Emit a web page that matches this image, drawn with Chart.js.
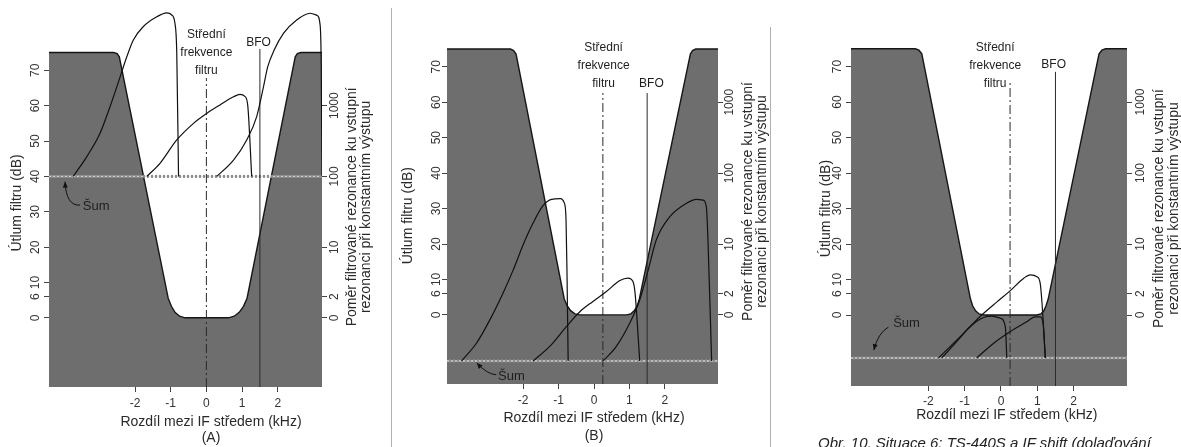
<!DOCTYPE html>
<html><head><meta charset="utf-8">
<script src="https://cdn.jsdelivr.net/npm/chart.js@4.4.1/dist/chart.umd.min.js"></script>
<style>
html,body{margin:0;padding:0;background:#fff;width:1181px;height:447px;overflow:hidden;}
canvas{position:absolute;top:0;}
.sep{position:absolute;width:1px;background:#b0b0b0;z-index:5;}
.cap{position:absolute;left:818px;top:435px;font:italic 15px "Liberation Sans",Arial,sans-serif;line-height:15px;color:#222;white-space:nowrap;z-index:5;}
</style></head><body>
<canvas id="cA" width="390" height="447" style="left:0px"></canvas>
<canvas id="cB" width="378" height="447" style="left:395px"></canvas>
<canvas id="cC" width="408" height="447" style="left:773px"></canvas>
<div class="sep" style="left:391px;top:8px;height:439px"></div>
<div class="sep" style="left:770px;top:27px;height:420px"></div>
<div class="cap" id="cap"></div>
<script>
// ---------- shared ticks / texts ----------
const xTicks = [-2, -1, 0, 1, 2];
const dbTicks = [0, 6, 10, 20, 30, 40, 50, 60, 70];
const ratioTickDb = [0, 6, 20, 40, 60];
const ratioLabels = ['0', '2', '10', '100', '1000'];
const midLabel = ['Střední', 'frekvence', 'filtru'];
const bfoLabel = 'BFO';
const noiseLabel = 'Šum';
const yTitle = 'Útlum filtru (dB)';
const y2Title = ['Poměr filtrované rezonance ku vstupní', 'rezonanci při konstantním výstupu'];
const xTitle = 'Rozdíl mezi IF středem (kHz)';
const caption = 'Obr. 10. Situace 6: TS-440S a IF shift (dolaďování';

// ---------- panel A data: [kHz, dB] ----------
const filterA = [[-4.41,75],[-2.6,75],[-2.5,74.7],[-2.44,73.8],[-1.07,5.6],[-0.98,3.3],[-0.88,1.6],[-0.75,0.5],[-0.6,0.05],[0.62,0.05],[0.78,0.5],[0.92,1.6],[1.04,3.3],[1.14,5.6],[2.49,73.8],[2.55,74.7],[2.65,75],[3.24,75]];
const signalA1 = [[-3.73,40],[-3.35,45.6],[-2.98,52.2],[-2.7,59.7],[-2.51,65.3],[-2.37,69.6],[-2.23,73.8],[-2.05,78.5],[-1.77,82.3],[-1.39,85.1],[-1.11,86.2],[-0.97,85.6],[-0.88,83.2],[-0.83,75],[-0.78,40]];
const signalA2 = [[-1.67,40],[-1.3,43.7],[-0.83,50.3],[-0.36,55],[0.01,57.8],[0.38,60.2],[0.76,62.5],[0.94,63.2],[1.08,62.6],[1.16,60],[1.27,40]];
const signalA3 = [[0.29,40],[0.76,44.6],[1.13,50.3],[1.41,56.9],[1.6,65.3],[1.72,71],[1.9,75.7],[2.16,80.4],[2.53,84.2],[2.91,86.1],[3.1,85.5],[3.19,82.5],[3.22,70],[3.24,40]];
const noiseA = 40, centerA = 0, bfoA = 1.5;

// ---------- panel B data ----------
const filterB = [[-4.15,75],[-2.36,75],[-2.27,74.6],[-2.2,73.6],[-0.84,4.5],[-0.76,2.6],[-0.66,1.2],[-0.54,0.3],[-0.4,0],[0.92,0],[1.04,0.3],[1.14,1.2],[1.22,2.6],[1.28,4.5],[2.72,73.6],[2.78,74.6],[2.87,75],[3.5,75]];
const signalB1 = [[-3.74,-13],[-3.32,-8],[-2.94,-1.4],[-2.57,6.1],[-2.28,12.7],[-2.0,19.8],[-1.72,25.9],[-1.44,30.8],[-1.2,32.6],[-0.95,32.8],[-0.84,31.6],[-0.79,27],[-0.76,10],[-0.73,-13]];
const signalB2 = [[-1.72,-13],[-1.25,-8.9],[-0.78,-3.3],[-0.4,0.9],[-0.03,3.8],[0.35,6.6],[0.73,9.7],[0.96,10.4],[1.1,9.4],[1.16,6],[1.29,-13]];
const signalB3 = [[0.26,-13],[0.63,-8.9],[1.01,-2.3],[1.29,4.2],[1.53,12.7],[1.76,21.2],[2.14,27.7],[2.61,31.5],[2.89,32.6],[3.08,32.4],[3.17,30.6],[3.22,20.2],[3.32,-13]];
const noiseB = -13, centerB = 0.25, bfoB = 1.5;

// ---------- panel C data ----------
const filterC = [[-4.13,75],[-2.36,75],[-2.26,74.6],[-2.18,73.6],[-0.84,4.5],[-0.78,2.6],[-0.7,1.2],[-0.6,0.3],[-0.48,0],[0.98,0],[1.1,0.3],[1.18,1.2],[1.24,2.6],[1.3,4.5],[2.7,73.6],[2.78,74.6],[2.88,75],[3.47,75]];
const signalC1 = [[-1.72,-12.1],[-1.31,-8],[-0.94,-4.2],[-0.53,0],[-0.11,3.7],[0.25,6.8],[0.62,10.3],[0.81,11.3],[0.99,10.8],[1.08,8.9],[1.13,3.3],[1.22,-12.1]];
const signalC2 = [[-1.63,-12.1],[-1.22,-7.5],[-0.85,-3.3],[-0.48,-0.7],[-0.25,-0.3],[-0.02,-0.9],[0.12,-3.3],[0.16,-12.1]];
const signalC3 = [[-0.67,-12.1],[-0.21,-8],[0.25,-4.7],[0.71,-1.9],[0.94,-0.5],[1.08,-0.5],[1.16,-2.3],[1.22,-12.1]];
const noiseC = -12.1, centerC = 0.25, bfoC = 1.5;

// ---------- layout / style (not data) ----------
const FONT = '"Liberation Sans", Arial, Helvetica, sans-serif';
const GRAY = '#6e6e6e';
Chart.defaults.font.family = FONT;

const panels = [
  { canvas:'cA', filter:filterA, signals:[signalA1,signalA2,signalA3], noise:noiseA, center:centerA, bfo:bfoA,
    xMin:-4.41, xMax:3.24, yMin:-19.5, yMax:89.0, padTop:3, yW:49, y2W:68, xH:60, yPad:2, y2Pad:-6, xPad:4,
    centerTop:67.8, bfoTop:76, midAt:[0,74.9], bfoAt:[1.46,77.8], sumAt:[-3.09,31.4],
    sumArrow:[[-3.54,31.9],[-3.93,31.6],[-3.96,38.5]],
    yTitleDx:-32, yTitleDb:32.5, y2TitleDx:[30,44], y2TitleDb:31.4, xTitleAt:0.13, xTitleDy:[35,51], tag:'(A)' },
  { canvas:'cB', filter:filterB, signals:[signalB1,signalB2,signalB3], noise:noiseB, center:centerB, bfo:bfoB,
    xMin:-4.15, xMax:3.5, yMin:-19.5, yMax:88.0, padTop:3, yW:52, y2W:55, xH:63, yPad:-1, y2Pad:-7, xPad:4,
    centerTop:62.6, bfoTop:62.6, midAt:[0.27,70.3], bfoAt:[1.62,65.1], sumAt:[-2.33,-17.4],
    sumArrow:[[-2.76,-16.9],[-3.03,-16.7],[-3.31,-13.5]],
    yTitleDx:-39, yTitleDb:28, y2TitleDx:[30,44], y2TitleDb:32, xTitleAt:0, xTitleDy:[34,52], tag:'(B)' },
  { canvas:'cC', filter:filterC, signals:[signalC1,signalC2,signalC3], noise:noiseC, center:centerC, bfo:bfoC,
    xMin:-4.13, xMax:3.47, yMin:-20, yMax:87.9, padTop:3, yW:78, y2W:54, xH:61, yPad:2, y2Pad:-5, xPad:3,
    centerTop:66, bfoTop:68.5, midAt:[-0.16,70.1], bfoAt:[1.45,70.4], sumAt:[-2.6,-2.3],
    sumArrow:[[-3.1,-3.4],[-3.39,-5.1],[-3.5,-9.9]],
    yTitleDx:-25, yTitleDb:30, y2TitleDx:[32,47], y2TitleDb:30, xTitleAt:0.16, xTitleDy:[29], tag:null }
];

const pts = arr => arr.map(p => ({x:p[0], y:p[1]}));

function drawText(ctx, s, x, y, font, rot) {
  ctx.save();
  ctx.translate(x, y);
  if (rot) ctx.rotate(rot);
  ctx.font = font;
  ctx.textAlign = 'center';
  ctx.textBaseline = 'middle';
  ctx.fillText(s, 0, 0);
  ctx.restore();
}

function textPlugin(L) {
  return {
    id: 'panelText',
    afterDraw(chart) {
      const {ctx, chartArea: ca} = chart;
      const xs = chart.scales.x, ys = chart.scales.y;
      const px = v => xs.getPixelForValue(v), py = v => ys.getPixelForValue(v);
      ctx.save();
      ctx.fillStyle = '#1e1e1e';
      midLabel.forEach((s, i) => drawText(ctx, s, px(L.midAt[0]), py(L.midAt[1]) + (i - 1) * 18, '12px ' + FONT));
      drawText(ctx, bfoLabel, px(L.bfoAt[0]), py(L.bfoAt[1]), '12px ' + FONT);
      drawText(ctx, noiseLabel, px(L.sumAt[0]), py(L.sumAt[1]), '13px ' + FONT);
      const [a, b, c] = L.sumArrow.map(p => [px(p[0]), py(p[1])]);
      ctx.strokeStyle = '#111'; ctx.lineWidth = 1;
      ctx.beginPath(); ctx.moveTo(a[0], a[1]); ctx.quadraticCurveTo(b[0], b[1], c[0], c[1]); ctx.stroke();
      const ang = Math.atan2(c[1] - b[1], c[0] - b[0]);
      const L1 = 6, W = 2.5;
      ctx.fillStyle = '#111';
      ctx.beginPath();
      ctx.moveTo(c[0], c[1]);
      ctx.lineTo(c[0] - L1 * Math.cos(ang) + W * Math.sin(ang), c[1] - L1 * Math.sin(ang) - W * Math.cos(ang));
      ctx.lineTo(c[0] - L1 * Math.cos(ang) - W * Math.sin(ang), c[1] - L1 * Math.sin(ang) + W * Math.cos(ang));
      ctx.closePath(); ctx.fill();
      ctx.fillStyle = '#2a2a2a';
      drawText(ctx, yTitle, ca.left + L.yTitleDx, py(L.yTitleDb), '14px ' + FONT, -Math.PI / 2);
      y2Title.forEach((s, i) => drawText(ctx, s, ca.right + L.y2TitleDx[i], py(L.y2TitleDb), '14px ' + FONT, -Math.PI / 2));
      const xt = L.tag ? [xTitle, L.tag] : [xTitle];
      xt.forEach((s, i) => drawText(ctx, s, px(L.xTitleAt), ca.bottom + L.xTitleDy[i], '14px ' + FONT));
      ctx.restore();
    }
  };
}

function axisGrid() {
  return { display:true, drawOnChartArea:false, drawTicks:true, tickLength:5, color:'#444', tickColor:'#444', tickWidth:1 };
}

function makePanel(L) {
  const datasets = [
    { data: pts(L.filter), borderColor:'#161616', borderWidth:1.4, backgroundColor:GRAY, fill:'start', pointRadius:0, tension:0, order:10 },
    { data: [{x:L.xMin,y:L.noise},{x:L.xMax,y:L.noise}], borderColor:'#8e8e8e', borderWidth:3, borderDash:[2,2], borderDashOffset:2, pointRadius:0, fill:false, order:9 },
    { data: [{x:L.xMin,y:L.noise},{x:L.xMax,y:L.noise}], borderColor:'rgba(225,225,225,0.85)', borderWidth:1.6, borderDash:[2,2], pointRadius:0, fill:false, order:8 },
    { data: [{x:L.center,y:L.yMin},{x:L.center,y:L.centerTop}], borderColor:'#2a2a2a', borderWidth:1, borderDash:[9,3,2,3], pointRadius:0, fill:false, order:6 },
    { data: [{x:L.bfo,y:L.yMin},{x:L.bfo,y:L.bfoTop}], borderColor:'#2a2a2a', borderWidth:1, pointRadius:0, fill:false, order:6 }
  ];
  L.signals.forEach(s => datasets.push({ data: pts(s), borderColor:'#111', borderWidth:1.2, pointRadius:0, fill:false, cubicInterpolationMode:'monotone', order:1 }));

  const tickFont = { family: FONT, size: 12 };
  new Chart(document.getElementById(L.canvas), {
    type: 'line',
    data: { datasets },
    plugins: [textPlugin(L)],
    options: {
      responsive:false, animation:false, devicePixelRatio:1, events:[],
      layout: { padding: { top:L.padTop, left:0, right:0, bottom:0 }, autoPadding:false },
      plugins: { legend:{display:false}, tooltip:{enabled:false} },
      scales: {
        x: { type:'linear', min:L.xMin, max:L.xMax,
             afterBuildTicks: s => { s.ticks = xTicks.map(v => ({value:v})); },
             afterFit: s => { s.height = L.xH; s.paddingLeft = 0; s.paddingRight = 0; },
             ticks: { font:tickFont, color:'#333', padding:L.xPad, autoSkip:false, maxRotation:0, callback: v => String(v) },
             grid: axisGrid(), border:{display:false} },
        y: { type:'linear', position:'left', min:L.yMin, max:L.yMax,
             afterBuildTicks: s => { s.ticks = dbTicks.map(v => ({value:v})); },
             afterFit: s => { s.width = L.yW; s.paddingTop = 0; s.paddingBottom = 0; },
             ticks: { font:tickFont, color:'#333', padding:L.yPad, autoSkip:false, minRotation:90, maxRotation:90, crossAlign:'center', callback: v => String(v) },
             grid: axisGrid(), border:{display:false} },
        y2: { type:'linear', position:'right', min:L.yMin, max:L.yMax,
             afterBuildTicks: s => { s.ticks = ratioTickDb.map(v => ({value:v})); },
             afterFit: s => { s.width = L.y2W; s.paddingTop = 0; s.paddingBottom = 0; },
             ticks: { font:tickFont, color:'#333', padding:L.y2Pad, autoSkip:false, minRotation:90, maxRotation:90, crossAlign:'center', callback: (v, i) => ratioLabels[i] },
             grid: axisGrid(), border:{display:false} }
      }
    }
  });
}

panels.forEach(makePanel);
document.getElementById('cap').textContent = caption;
</script>
</body></html>
